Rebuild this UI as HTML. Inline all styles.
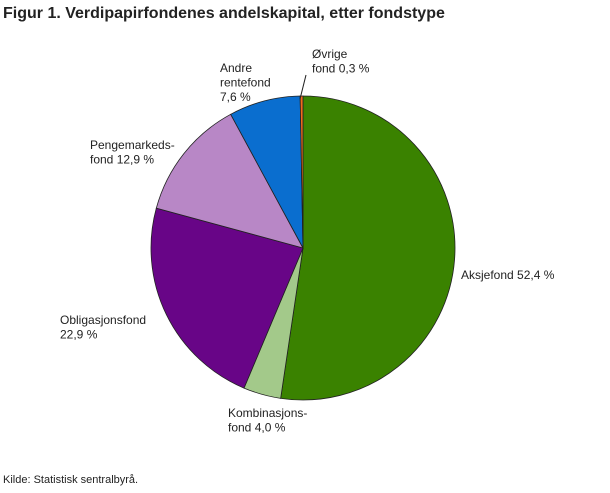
<!DOCTYPE html>
<html><head><meta charset="utf-8"><style>
body{margin:0;background:#fff;font-family:"Liberation Sans",sans-serif;}
svg text{font-family:"Liberation Sans",sans-serif;fill:#222;}
</style></head><body>
<svg width="610" height="488" viewBox="0 0 610 488">
<text x="3" y="18" font-size="16" font-weight="bold" fill="#222">Figur 1. Verdipapirfondenes andelskapital, etter fondstype</text>
<g id="slices"></g>
<g id="labels"></g>
<line x1="300" y1="99" x2="306" y2="75" stroke="#222" stroke-width="1"/>
<text x="3" y="483" font-size="11">Kilde: Statistisk sentralbyrå.</text>
</svg>
<script>
const categories=["Aksjefond","Kombinasjonsfond","Obligasjonsfond","Pengemarkedsfond","Andre rentefond","Øvrige fond"];
const values=[52.4,4.0,22.9,12.9,7.6,0.3];
const valueLabels=["52,4 %","4,0 %","22,9 %","12,9 %","7,6 %","0,3 %"];
const colors=["#3a8200","#a3c98a","#680587","#b887c6","#0a6ecf","#f26a1b"];
const labelLines=[["Aksjefond 52,4 %"],["Kombinasjons-","fond 4,0 %"],["Obligasjonsfond","22,9 %"],["Pengemarkeds-","fond 12,9 %"],["Andre","rentefond","7,6 %"],["Øvrige","fond 0,3 %"]];
const labelAnchor=[[461,279],[228,417],[60,324],[90,149],[220,72],[312,58]];
const cx=303,cy=248,r=152;
const ns="http://www.w3.org/2000/svg";
const total=values.reduce((a,b)=>a+b,0);
const g=document.getElementById('slices'),lg=document.getElementById('labels');
let a0=0;
values.forEach((v,i)=>{
 const a1=a0+v/total*2*Math.PI;
 const p=(a)=>[cx+r*Math.sin(a),cy-r*Math.cos(a)];
 const [x0,y0]=p(a0),[x1,y1]=p(a1);
 const large=(a1-a0)>Math.PI?1:0;
 const path=document.createElementNS(ns,'path');
 path.setAttribute('d',`M${cx},${cy}L${x0},${y0}A${r},${r} 0 ${large} 1 ${x1},${y1}Z`);
 path.setAttribute('fill',colors[i]);
 path.setAttribute('stroke','#222');
 path.setAttribute('stroke-width','0.8');
 
 
 g.appendChild(path);
 const t=document.createElementNS(ns,'text');
 t.setAttribute('font-size','12');
 
 
 labelLines[i].forEach((ln,j)=>{
  const s=document.createElementNS(ns,'tspan');
  s.setAttribute('x',labelAnchor[i][0]);
  s.setAttribute('y',labelAnchor[i][1]+j*14.5);
  s.textContent=ln;t.appendChild(s);
 });
 lg.appendChild(t);
 a0=a1;
});
</script>
</body></html>
